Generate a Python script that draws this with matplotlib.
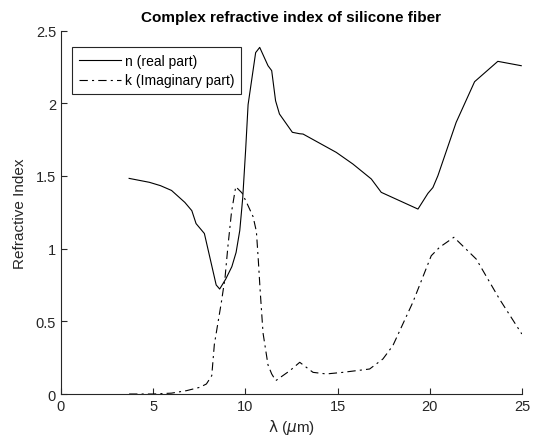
import numpy as np
import matplotlib
matplotlib.use('Agg')
import matplotlib.pyplot as plt

plt.rcParams['font.family'] = ['Liberation Sans', 'DejaVu Sans']
plt.rcParams['font.size'] = 10
plt.rcParams['lines.scale_dashes'] = False

# real part n
lam_n = [3.70, 4.80, 5.40, 6.00, 6.72, 7.10, 7.33, 7.78, 8.16, 8.42, 8.61, 8.94, 9.27, 9.50,
         9.70, 9.86, 10.02, 10.15, 10.56, 10.78, 11.23, 11.43, 11.64, 11.85, 12.55, 12.95,
         13.13, 14.93, 15.83, 16.83, 17.37, 19.36, 19.90, 20.17, 20.44, 21.43, 22.43, 23.69, 24.96]
n_real = [1.483, 1.456, 1.433, 1.400, 1.318, 1.261, 1.172, 1.104, 0.894, 0.750, 0.722, 0.791, 0.876, 0.974,
          1.125, 1.350, 1.685, 1.990, 2.348, 2.384, 2.258, 2.224, 2.017, 1.926, 1.800, 1.790,
          1.788, 1.662, 1.582, 1.479, 1.387, 1.272, 1.380, 1.420, 1.501, 1.868, 2.148, 2.288, 2.258]

# imaginary part k
lam_k = [3.70, 5.00, 6.00, 6.81, 7.53, 7.89, 8.18, 8.32, 8.49, 8.70, 8.90, 9.06, 9.25, 9.48,
         9.82, 10.15, 10.42, 10.60, 10.70, 10.80, 10.96, 11.23, 11.43, 11.65, 12.41, 12.95,
         13.67, 14.39, 15.29, 16.74, 17.46, 18.00, 19.08, 20.08, 20.53, 21.31, 22.52, 23.78, 24.99]
k_imag = [0.0, 0.0, 0.006, 0.023, 0.046, 0.069, 0.126, 0.340, 0.470, 0.630, 0.800, 1.020, 1.250, 1.426,
          1.383, 1.295, 1.220, 1.118, 0.930, 0.720, 0.420, 0.200, 0.138, 0.092, 0.160, 0.218,
          0.149, 0.138, 0.149, 0.172, 0.241, 0.333, 0.630, 0.951, 1.009, 1.078, 0.928, 0.653, 0.413]

axcol = (0.15, 0.15, 0.15)

fig = plt.figure(figsize=(5.34, 4.39), dpi=100)
ax = fig.add_axes([0.114, 0.1002, 0.8635, 0.828])

ax.plot(lam_n, n_real, '-', color='k', linewidth=0.8, label='n (real part)')
ax.plot(lam_k, k_imag, color='k', linewidth=0.8, linestyle=(0, (6, 3, 1.5, 3)),
        label='k (Imaginary part)')

ax.set_xlim(0, 25)
ax.set_ylim(0, 2.5)
ax.set_xticks([0, 5, 10, 15, 20, 25])
ax.set_yticks([0, 0.5, 1, 1.5, 2, 2.5])
ax.set_yticklabels(['0', '0.5', '1', '1.5', '2', '2.5'])

for s in ['top', 'right']:
    ax.spines[s].set_visible(False)
for s in ['left', 'bottom']:
    ax.spines[s].set_color(axcol)
    ax.spines[s].set_linewidth(0.8)
ax.tick_params(direction='in', length=4, width=0.8, colors=axcol, labelsize=10.5)

ax.set_xlabel('$\\mathrm{\\lambda}$ ($\\mu$m)', color=axcol, fontsize=11, labelpad=3)
ax.set_ylabel('Refractive Index', color=axcol, fontsize=11, labelpad=6)
ax.set_title('Complex refractive index of silicone fiber', fontsize=11, fontweight='bold',
             color='k', pad=7)

leg = ax.legend(loc='upper left', fancybox=False, framealpha=1, edgecolor=axcol,
                fontsize=10, borderpad=0.5, handlelength=3.0, handletextpad=0.3,
                labelspacing=0.4, bbox_to_anchor=(0.024, 0.955), borderaxespad=0.0)
leg.get_frame().set_linewidth(0.8)

fig.savefig('out.png', dpi=100)
